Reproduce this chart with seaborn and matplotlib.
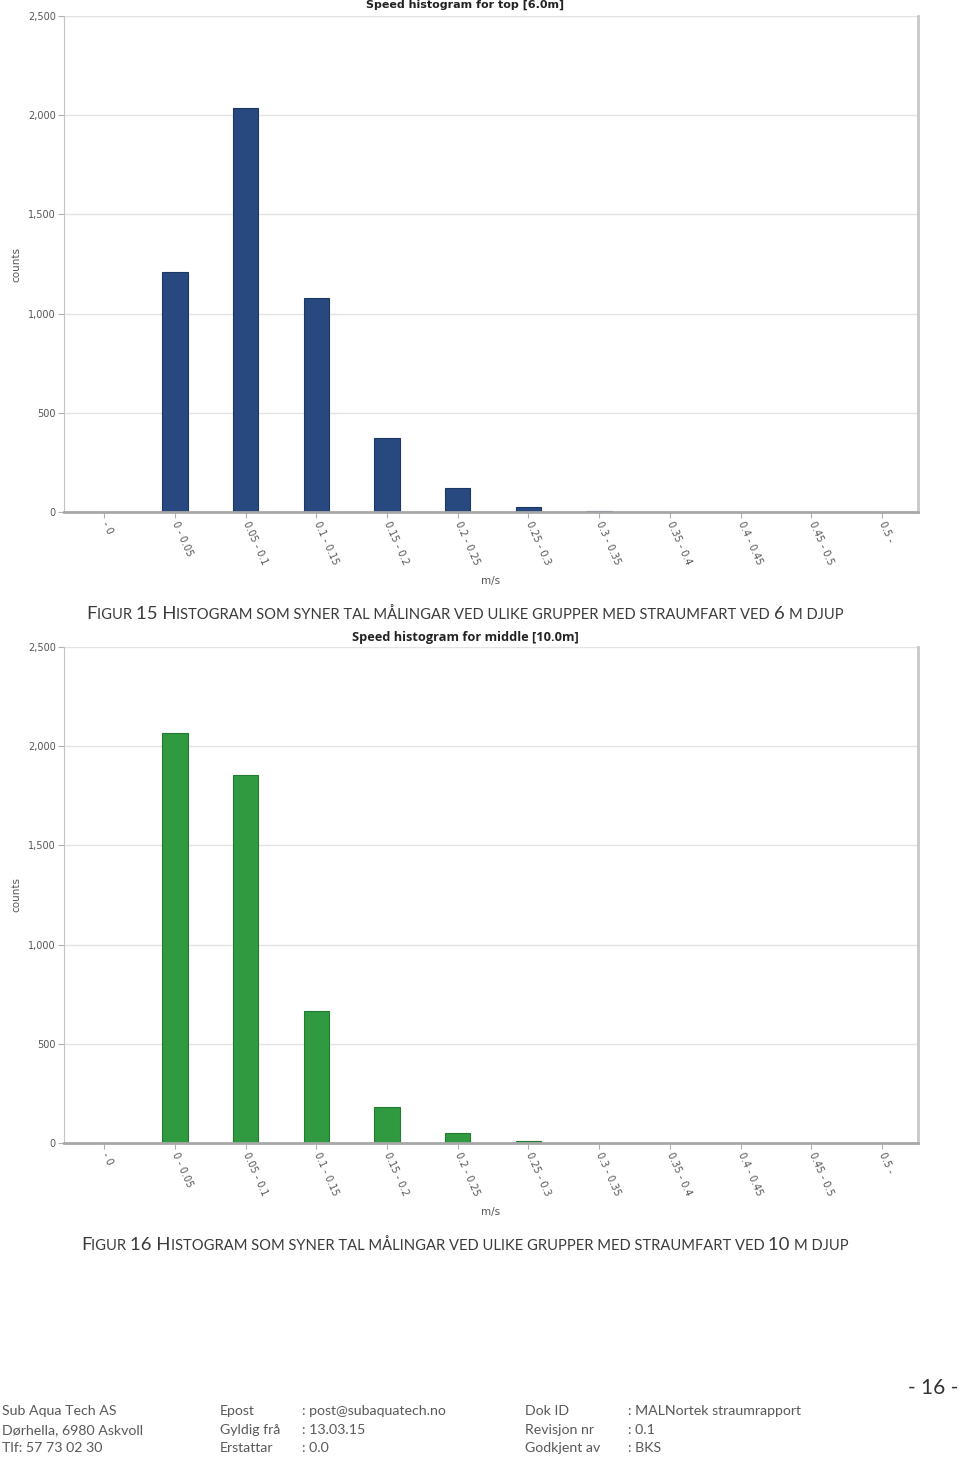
import matplotlib
matplotlib.use("Agg")
import matplotlib.pyplot as plt
import seaborn as sns
import pandas as pd
from matplotlib.ticker import FuncFormatter, MultipleLocator

# ---------------- data ----------------
categories = ["- 0", "0 - 0.05", "0.05 - 0.1", "0.1 - 0.15", "0.15 - 0.2", "0.2 - 0.25",
              "0.25 - 0.3", "0.3 - 0.35", "0.35 - 0.4", "0.4 - 0.45", "0.45 - 0.5", "0.5 -"]
top_counts = [0, 1210, 2036, 1079, 373, 121, 25, 4, 0, 0, 0, 0]
middle_counts = [0, 2066, 1855, 665, 181, 50, 8, 0, 0, 0, 0, 0]
top_title = "Speed histogram for top [6.0m]"
middle_title = "Speed histogram for middle [10.0m]"
caption15 = [("F", "b"), ("IGUR ", "s"), ("15 H", "b"),
             ("ISTOGRAM SOM SYNER TAL MÅLINGAR VED ULIKE GRUPPER MED STRAUMFART VED ", "s"),
             ("6 ", "b"), ("M DJUP", "s")]
caption16 = [("F", "b"), ("IGUR ", "s"), ("16 H", "b"),
             ("ISTOGRAM SOM SYNER TAL MÅLINGAR VED ULIKE GRUPPER MED STRAUMFART VED ", "s"),
             ("10 ", "b"), ("M DJUP", "s")]
footer_col1 = ["Sub Aqua Tech AS", "Dørhella, 6980 Askvoll", "Tlf: 57 73 02 30"]
footer_col2a = ["Epost", "Gyldig frå", "Erstattar"]
footer_col2b = [": post@subaquatech.no", ": 13.03.15", ": 0.0"]
footer_col3a = ["Dok ID", "Revisjon nr", "Godkjent av"]
footer_col3b = [": MALNortek straumrapport", ": 0.1", ": BKS"]
page_no = "- 16 -"

# ---------------- style ----------------
sns.set_theme(style="white")
plt.rcParams["font.family"] = ["DejaVu Sans"]

W, H = 960, 1458
fig = plt.figure(figsize=(W / 100, H / 100), dpi=100)
fig.patch.set_facecolor("white")

tick_grey = "#555555"


def draw_hist(rect, values, color, edge):
    ax = fig.add_axes(rect)
    df = pd.DataFrame({"cat": categories, "count": values})
    sns.barplot(data=df, x="cat", y="count", ax=ax, color=color, width=0.36,
                edgecolor=edge, linewidth=0.8, saturation=1)
    ax.set_xlim(-0.57, 11.51)
    ax.set_ylim(0, 2500)
    ax.yaxis.set_major_locator(MultipleLocator(500))
    ax.yaxis.set_major_formatter(FuncFormatter(lambda v, p: f"{int(v):,}"))
    ax.grid(axis="y", color="#e3e3e3", linewidth=1)
    ax.set_axisbelow(True)
    ax.spines["top"].set_visible(False)
    ax.spines["left"].set_color("#c4c4c4")
    ax.spines["left"].set_linewidth(0.8)
    ax.spines["right"].set_color("#c8c8c8")
    ax.spines["right"].set_linewidth(2)
    ax.spines["bottom"].set_color("#a8a8a8")
    ax.spines["bottom"].set_linewidth(2)
    ax.tick_params(axis="y", which="major", left=True, length=4, width=0.8, color="#b0b0b0",
                   labelsize=7, labelcolor=tick_grey, pad=2)
    ax.tick_params(axis="x", which="major", bottom=True, length=4, width=0.8, color="#b0b0b0",
                   labelsize=7, labelcolor=tick_grey, pad=3)
    for lab in ax.get_xticklabels():
        lab.set_rotation(-66)
        lab.set_ha("left")
        lab.set_va("center")
        lab.set_rotation_mode("anchor")
    ax.set_xlabel("m/s", fontsize=7.5, color=tick_grey)
    ax.xaxis.set_label_coords(0.5, -0.13)
    ax.set_ylabel("counts", fontsize=7.5, color=tick_grey)
    ax.yaxis.set_label_coords(-0.05, 0.5)
    return ax


ax1 = draw_hist([64 / W, 1 - 512 / H, 854 / W, 496 / H], top_counts, "#28497f", "#1d3765")
ax2 = draw_hist([64 / W, 1 - 1143 / H, 854 / W, 496 / H], middle_counts, "#2f9a3f", "#237a30")

fig.text(465 / W, 1 - 5 / H, top_title, ha="center", va="center", fontsize=8, fontweight="bold",
         color="#222222")
fig.text(465 / W, 1 - 637 / H, middle_title, ha="center", va="center", fontsize=9.2, fontweight="bold",
         color="#222222", family=["Open Sans", "DejaVu Sans"])

renderer = fig.canvas.get_renderer()
cap_color = "#3a3a3a"


def smallcaps(segments, xc, y_base, big, small):
    fam = ["Lato", "DejaVu Sans"]
    widths = []
    for s, k in segments:
        t = fig.text(0, 0, s, fontsize=big if k == "b" else small, family=fam)
        widths.append(t.get_window_extent(renderer).width / W)
        t.remove()
    total = sum(widths)
    x = xc - total / 2
    for (s, k), w in zip(segments, widths):
        fig.text(x, y_base, s, fontsize=big if k == "b" else small, family=fam,
                 va="baseline", ha="left", color=cap_color)
        x += w


smallcaps(caption15, 465 / W, 1 - 619 / H, 13.3, 10.6)
smallcaps(caption16, 465 / W, 1 - 1250 / H, 13.3, 10.6)

foot_color = "#595959"
ffam = ["Lato", "DejaVu Sans"]
fs = 10.2
ys = [1411, 1430, 1448]
for i, y in enumerate(ys):
    yy = 1 - y / H
    fig.text(2 / W, yy, footer_col1[i], fontsize=fs, family=ffam, color=foot_color, va="center")
    fig.text(220 / W, yy, footer_col2a[i], fontsize=fs, family=ffam, color=foot_color, va="center")
    fig.text(302 / W, yy, footer_col2b[i], fontsize=fs, family=ffam, color=foot_color, va="center")
    fig.text(525 / W, yy, footer_col3a[i], fontsize=fs, family=ffam, color=foot_color, va="center")
    fig.text(628 / W, yy, footer_col3b[i], fontsize=fs, family=ffam, color=foot_color, va="center")
fig.text(958 / W, 1 - 1388 / H, page_no, fontsize=15, family=ffam, color="#333333", va="center", ha="right")

fig.savefig("out.png", dpi=100, facecolor="white")
